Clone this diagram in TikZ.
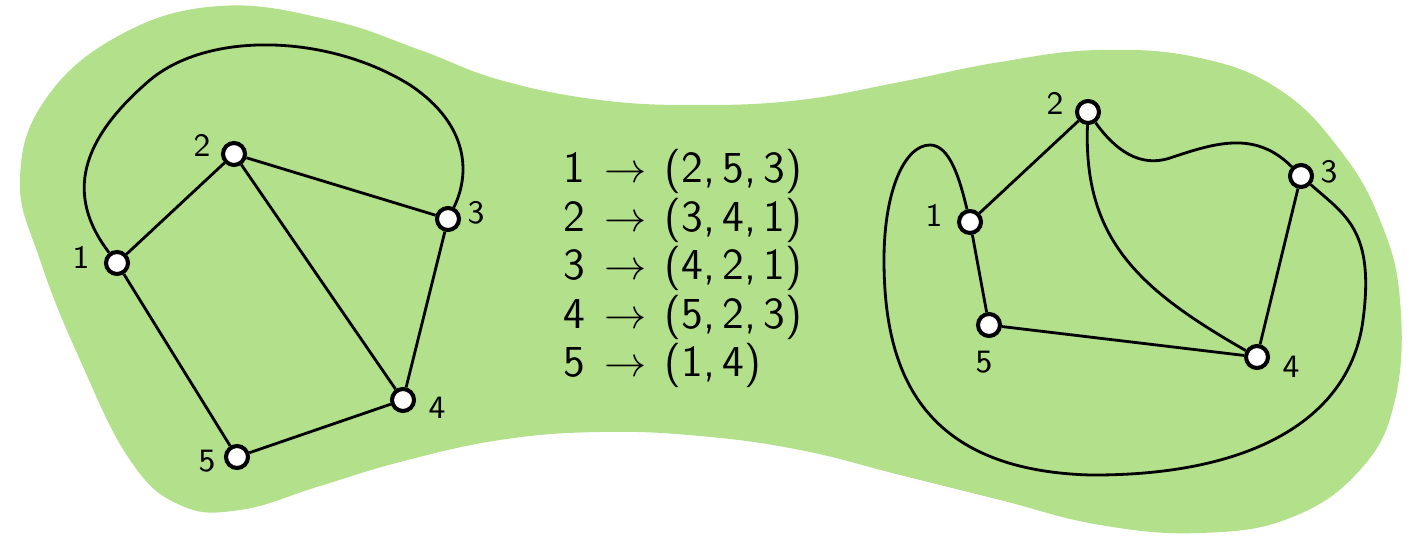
\documentclass[tikz,border=0pt]{standalone}
\usepackage{tikz}
\usetikzlibrary{positioning}
\definecolor{leaf}{RGB}{179,224,139}
\newcommand{\maparrow}{\hspace{0.42em}$\rightarrow$\hspace{0.42em}}
\begin{document}
\begin{tikzpicture}[x=0.1mm, y=-0.1mm, font=\sffamily,
  vtx/.style={circle,draw=black,fill=white,line width=1.15pt,minimum size=2.2mm,inner sep=0pt},
  lbl/.style={font=\sffamily\fontsize{9.3}{10}\selectfont,inner sep=0pt},
  ed/.style={black,line width=0.8pt}]
 \useasboundingbox (0,0) rectangle (1407,537);
 \fill[leaf] plot[smooth cycle, tension=0.7] coordinates {(120,35) (220,6) (330,20) (420,50) (500,80) (600,100) (700,105) (800,100) (900,82) (1000,62) (1100,50) (1200,58) (1280,90) (1340,150) (1380,220) (1400,300) (1395,400) (1360,470) (1290,518) (1200,533) (1100,525) (1000,500) (900,475) (800,450) (700,436) (600,432) (500,440) (400,462) (320,486) (240,510) (180,505) (130,460) (80,360) (40,260) (20,180) (45,100)};
 \node[vtx] (l1) at (117,263) {}; \node[lbl] (l1t) at (81,257) {1};
 \node[vtx] (l2) at (234,154) {}; \node[lbl] (l2t) at (202,145) {2};
 \node[vtx] (l3) at (448,219) {}; \node[lbl] (l3t) at (476,213) {3};
 \node[vtx] (l4) at (403,400) {}; \node[lbl] (l4t) at (437,408) {4};
 \node[vtx] (l5) at (237,457) {}; \node[lbl] (l5t) at (207,461) {5};
 \node[vtx] (r1) at (970,222) {}; \node[lbl] (r1t) at (934,215) {1};
 \node[vtx] (r2) at (1088,112) {}; \node[lbl] (r2t) at (1055,103) {2};
 \node[vtx] (r3) at (1301,176) {}; \node[lbl] (r3t) at (1329,172) {3};
 \node[vtx] (r4) at (1257,357) {}; \node[lbl] (r4t) at (1291,367) {4};
 \node[vtx] (r5) at (989,325) {}; \node[lbl] (r5t) at (984,362) {5};
 \node[align=left, anchor=north west, inner sep=0pt, font=\sffamily\fontsize{12.6}{13.8}\selectfont] (map) at (563,149)
   {1\maparrow(2,\,5,\,3)\\ 2\maparrow(3,\,4,\,1)\\ 3\maparrow(4,\,2,\,1)\\ 4\maparrow(5,\,2,\,3)\\ 5\maparrow(1,\,4)};
 \draw[ed] (l1) -- (l2); \draw[ed] (l2) -- (l3); \draw[ed] (l2) -- (l4); \draw[ed] (l3) -- (l4); \draw[ed] (l4) -- (l5); \draw[ed] (l5) -- (l1);
 \draw[ed] (l1) .. controls (65,195) and (80,140) .. (150,80) .. controls (210,30) and (330,35) .. (410,85) .. controls (470,125) and (470,175) .. (l3);
 \draw[ed] (r1) -- (r2); \draw[ed] (r1) -- (r5); \draw[ed] (r5) -- (r4); \draw[ed] (r3) -- (r4);
 \draw[ed] (r2) .. controls (1115,150) and (1140,168) .. (1170,158) .. controls (1215,143) and (1255,130) .. (r3);
 \draw[ed] (r2) .. controls (1083,240) and (1140,290) .. (r4);
 \draw[ed] (r1) .. controls (960,180) and (950,145) .. (930,145) .. controls (905,145) and (884,190) .. (884,260)
   .. controls (884,370) and (920,470) .. (1090,475) .. controls (1250,476) and (1350,420) .. (1363,320)
   .. controls (1375,230) and (1345,215) .. (r3);
\end{tikzpicture}
\end{document}
